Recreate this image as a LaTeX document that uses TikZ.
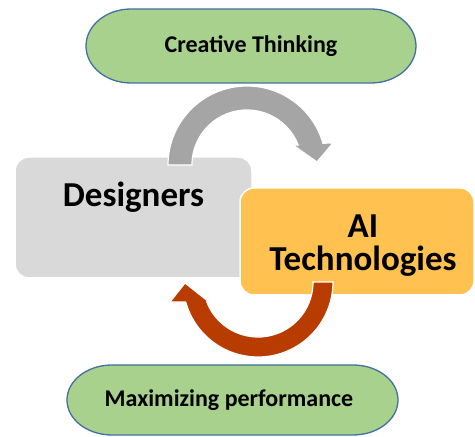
\documentclass[tikz,border=0pt]{standalone}
\usepackage{fontspec}
\setmainfont{Carlito}
\definecolor{pillfill}{HTML}{A9D18E}
\definecolor{pillline}{HTML}{41719C}
\definecolor{greybox}{HTML}{D9D9D9}
\definecolor{greyarrow}{HTML}{A5A5A5}
\definecolor{yellowbox}{HTML}{FFC14F}
\definecolor{redarrow}{HTML}{B83B00}
\tikzset{
  pillshape/.style={draw=pillline, line width=1.3pt, fill=pillfill},
  pilltext/.style={inner sep=0pt, font=\bfseries\fontsize{24}{28}\selectfont},
  blockbox/.style={draw=white, line width=1.5pt, rounded corners=14pt, inner sep=0pt},
  bigtext/.style={font=\bfseries\fontsize{35}{33.5}\selectfont, align=center, inner sep=0pt},
  shapeline/.style={draw=white, line width=1.2pt}
}
\begin{document}
\begin{tikzpicture}[x=1pt,y=1pt]
\useasboundingbox (0,0) rectangle (475,437);
% top pill
\path[pillshape] (131,428) -- (371,428)
  arc[start angle=90, end angle=-90, x radius=45, y radius=37] -- (131,354)
  arc[start angle=270, end angle=90, x radius=45, y radius=37] -- cycle;
\node[pilltext] (ct) at (251,391) {Creative Thinking};
% bottom pill
\path[pillshape] (112,72) -- (353,72)
  arc[start angle=90, end angle=-90, x radius=45, y radius=35] -- (112,2)
  arc[start angle=270, end angle=90, x radius=45, y radius=35] -- cycle;
\node[pilltext] (mp) at (229,37) {Maximizing performance};
% designers box
\node[blockbox, fill=greybox, minimum width=237pt, minimum height=121pt,
  label={[bigtext, yshift=20pt]center:Designers}] (des) at (133.5,219.5) {};
% grey arrow
\path[fill=greyarrow, shapeline] (168,272) arc[start angle=180, end angle=16, radius=79]
  -- (333,294) -- (317,275) -- (293,292) -- (298.2,292)
  arc[start angle=21.3, end angle=180, radius=55] -- cycle;
% AI technologies box
\node[blockbox, fill=yellowbox, minimum width=234pt, minimum height=107pt,
  label={[bigtext, xshift=6pt, yshift=-4pt]center:AI\\Technologies}] (ai) at (357,195.5) {};
% red arrow
\path[fill=redarrow, shapeline] (333,155) arc[start angle=0, end angle=-164.5, radius=75]
  -- (170,135) -- (185,154) -- (209,135) -- (206.8,135)
  arc[start angle=-158.7, end angle=0, radius=55] -- cycle;
\end{tikzpicture}
\end{document}
